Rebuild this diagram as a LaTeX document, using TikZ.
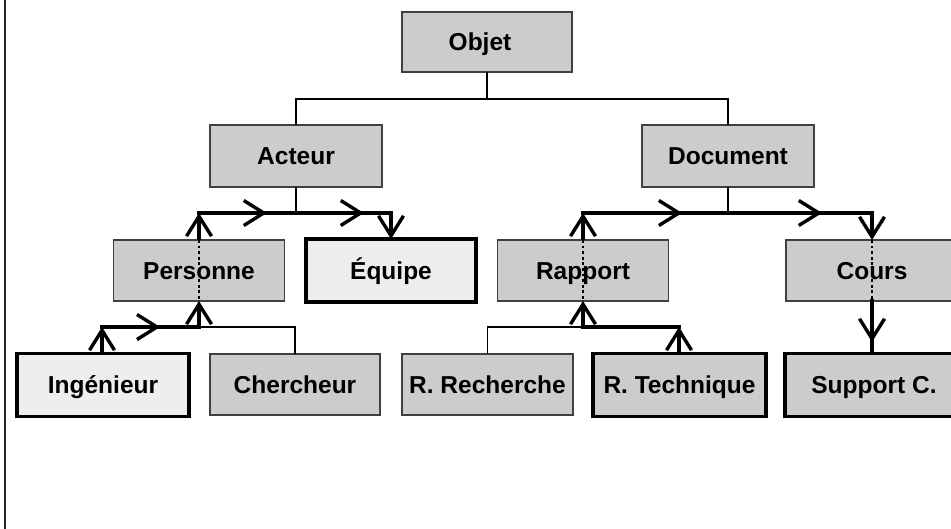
\documentclass[tikz,border=0pt]{standalone}
\usepackage{fontspec}
\setmainfont{Liberation Sans}
\usetikzlibrary{arrows.meta,decorations.markings}
\definecolor{boxgray}{HTML}{CCCCCC}
\definecolor{boxlight}{HTML}{EEEEEE}
\tikzset{
  bigbarb/.tip={Straight Barb[length=20pt,width=25pt,line width=3.4pt]},
  cls/.style={draw=black!75, line width=1.3pt, fill=boxgray, inner sep=0pt, outer sep=0pt,
    minimum height=61pt, text height=23pt, text depth=5pt,
    font=\fontsize{24.5}{28}\selectfont\bfseries},
  strong/.style={draw=black, line width=3.5pt, minimum height=63pt},
  lightbox/.style={fill=boxlight},
  tree/.style={draw=black, line width=1.3pt},
  flow/.style={draw=black, line width=3.2pt, line cap=rect, line join=miter},
  headend/.style={-bigbarb, line cap=butt},
  markat/.style={postaction={decorate, decoration={markings, mark=at position #1 with {\arrow{bigbarb}}}}},
  dotline/.style={draw=black, line width=2.8pt, dash pattern=on 2.8pt off 2.8pt}
}
\begin{document}
\begin{tikzpicture}[x=1pt,y=-1pt]
\useasboundingbox (0,0) rectangle (951,529);
\clip (0,0) rectangle (951,529);
\draw[line width=2pt, black!85] (5,0) -- (5,529);

% nodes
\node[cls, minimum width=170pt, minimum height=60pt] (obj) at (487,42) {\hspace*{-14pt}Objet};
\node[cls, minimum width=172pt, minimum height=62pt] (act) at (296,156) {Acteur};
\node[cls, minimum width=172pt, minimum height=62pt] (doc) at (728,156) {Document};
\node[cls, minimum width=171pt] (per) at (199,270.5) {Personne};
\node[cls, strong, lightbox, minimum width=170pt] (equ) at (391,270.5) {Équipe};
\node[cls, minimum width=171pt] (rap) at (583,270.5) {Rapport};
\node[cls, minimum width=172pt] (cou) at (872,270.5) {Cours};
\node[cls, strong, lightbox, minimum width=172pt] (ing) at (103,385) {Ingénieur};
\node[cls, minimum width=170pt] (che) at (295,384.5) {Chercheur};
\node[cls, minimum width=171pt] (rre) at (487.5,384.5) {R. Recherche};
\node[cls, strong, minimum width=173pt] (rte) at (679.5,385) {R. Technique};
\node[cls, strong, minimum width=178pt] (sup) at (874,385) {Support C.};

% junction coordinates
\coordinate (j0) at (487,99);
\coordinate (c1) at (199,213);
\coordinate (c2) at (391,213);
\coordinate (c3) at (583,213);
\coordinate (c4) at (872,213);
\coordinate (c5) at (102,327);
\coordinate (c6) at (199,327);
\coordinate (c7) at (583,327);
\coordinate (c8) at (679,327);

% thin tree lines
\draw[tree] (obj.south) -- (j0) -| (act.north);
\draw[tree] (j0) -| (doc.north);
\draw[tree] (act.south) -- (act.south |- c1);
\draw[tree] (doc.south) -- (doc.south |- c3);
\draw[tree] (c6) -| (che.north);
\draw[tree] (c7) -| (rre.north);

% thick flow lines, left
\draw[flow, headend] (per.north) -- (c1);
\draw[flow, markat=0.354, markat=0.859] (c1) -- (c2);
\draw[flow, headend] (c2) -- (equ.north);
\draw[flow, markat=0.6] (c5) -- (c6);
\draw[flow, headend] (ing.north -| c5) -- (c5);
\draw[flow, headend] (c6) -- (per.south);

% thick flow lines, right
\draw[flow, headend] (rap.north) -- (c3);
\draw[flow, markat=0.343, markat=0.827] (c3) -- (c4);
\draw[flow, headend] (c4) -- (cou.north);
\draw[flow] (c7) -- (c8);
\draw[flow, headend] (rte.north -| c8) -- (c8);
\draw[flow, headend] (c7) -- (rap.south);
\draw[flow, markat=0.78] (cou.south) -- (cou.south |- sup.north);

% dotted lines through classes
\draw[dotline] (per.north) -- (per.south);
\draw[dotline] (rap.north) -- (rap.south);
\draw[dotline] (cou.north) -- (cou.south);
\end{tikzpicture}
\end{document}
